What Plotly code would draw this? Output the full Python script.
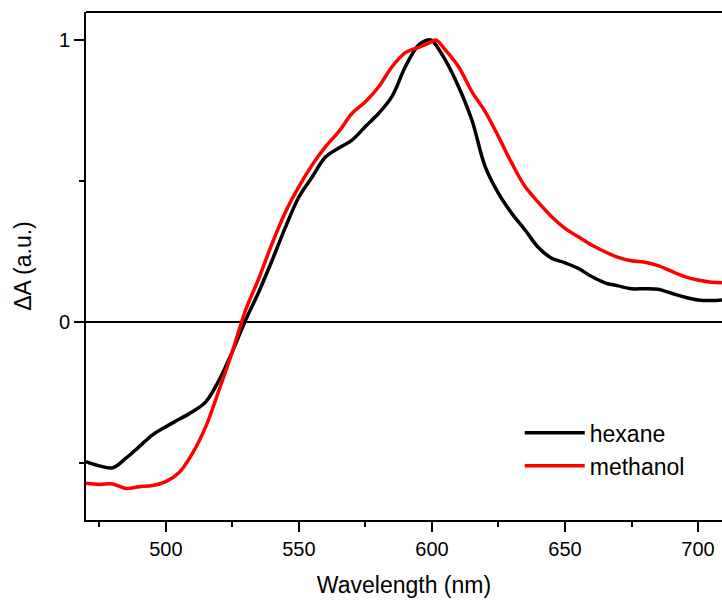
import plotly.graph_objects as go

# wavelength grid (nm)
wavelength = [470, 475, 480, 485, 490, 495, 500, 505, 510, 515, 520, 525, 530, 535,
              540, 545, 550, 555, 560, 565, 570, 575, 580, 585, 590, 595, 598.5, 600,
              605, 610, 615, 620, 625, 630, 635, 640, 645, 650, 655, 660, 665, 670,
              675, 680, 685, 690, 695, 700, 705, 709]

hexane = [-0.495, -0.51, -0.517, -0.483, -0.442, -0.40, -0.371, -0.345, -0.318, -0.283,
          -0.206, -0.105, 0.007, 0.108, 0.22, 0.337, 0.443, 0.514, 0.585, 0.617,
          0.645, 0.693, 0.74, 0.80, 0.905, 0.982, 1.0, 0.998, 0.929, 0.834, 0.716,
          0.551, 0.456, 0.385, 0.326, 0.264, 0.226, 0.21, 0.19, 0.161, 0.139, 0.128,
          0.118, 0.118, 0.116, 0.102, 0.088, 0.078, 0.076, 0.078]

methanol_wl = [470, 475, 480, 485, 490, 495, 500, 505, 510, 515, 520, 525, 530, 535,
               540, 545, 550, 555, 560, 565, 570, 575, 580, 585, 590, 595, 600, 601.5,
               605, 610, 615, 620, 625, 630, 635, 640, 645, 650, 655, 660, 665, 670,
               675, 680, 685, 690, 695, 700, 705, 709]

methanol = [-0.572, -0.576, -0.574, -0.590, -0.584, -0.580, -0.566, -0.534, -0.466,
            -0.371, -0.241, -0.105, 0.043, 0.156, 0.28, 0.391, 0.48, 0.557, 0.622,
            0.675, 0.74, 0.781, 0.834, 0.905, 0.955, 0.974, 0.994, 1.0, 0.965, 0.905,
            0.817, 0.746, 0.657, 0.563, 0.48, 0.424, 0.373, 0.332, 0.302, 0.273,
            0.249, 0.229, 0.217, 0.212, 0.200, 0.180, 0.161, 0.149, 0.141, 0.139]

FONT = "Liberation Sans, Arial, sans-serif"

fig = go.Figure()
fig.add_trace(go.Scatter(x=wavelength, y=hexane, mode='lines', name='hexane',
                         line=dict(color='black', width=3.5, shape='spline', smoothing=1.0)))
fig.add_trace(go.Scatter(x=methanol_wl, y=methanol, mode='lines', name='methanol',
                         line=dict(color='#ff0000', width=3.5, shape='spline', smoothing=1.0)))

# top frame line (no right frame in the reference)
fig.add_shape(type='line', xref='paper', yref='paper', x0=0, x1=1, y0=1, y1=1,
              line=dict(color='black', width=2))

fig.update_layout(
    width=722, height=600,
    margin=dict(l=86, r=0, t=12, b=80),
    paper_bgcolor='white', plot_bgcolor='white',
    font=dict(family=FONT, color='black'),
    showlegend=True,
    legend=dict(x=0.682, y=0.214, xanchor='left', yanchor='top', itemwidth=60,
                bgcolor='rgba(0,0,0,0)', font=dict(size=23), tracegroupgap=0),
    xaxis=dict(range=[470, 709], showgrid=False, zeroline=False, automargin=False,
               showline=True, linecolor='black', linewidth=2,
               ticks='outside', ticklen=10, tickwidth=1.5, tickcolor='black',
               tick0=500, dtick=50, tickfont=dict(size=20),
               minor=dict(ticks='outside', ticklen=5, tickwidth=1.5, tickcolor='black',
                          tick0=475, dtick=50),
               title=dict(text='Wavelength (nm)', font=dict(size=23), standoff=18)),
    yaxis=dict(range=[-0.702, 1.099], showgrid=False, automargin=False,
               zeroline=True, zerolinecolor='black', zerolinewidth=1.5,
               showline=True, linecolor='black', linewidth=2,
               ticks='outside', ticklen=10, tickwidth=1.5, tickcolor='black',
               tickvals=[0, 1], ticktext=['0', '1'], tickfont=dict(size=20),
               minor=dict(ticks='outside', ticklen=5, tickwidth=1.5, tickcolor='black',
                          tickvals=[-0.5, 0.5]),
               title=dict(text='ΔA (a.u.)', font=dict(size=23), standoff=21)),
)

# the page adds an 8px body margin; drop it so the figure sits at 0,0
fig.write_html("out.html", config={'displayModeBar': False},
               post_script="document.body.style.margin='0px';")
